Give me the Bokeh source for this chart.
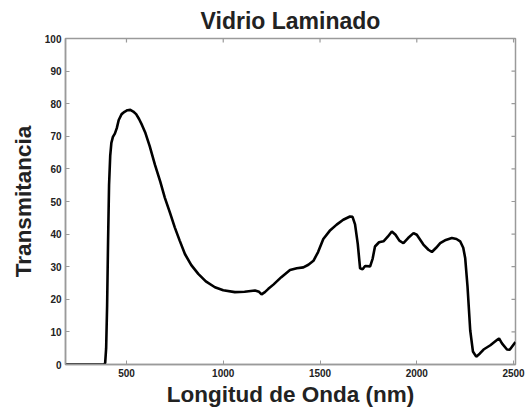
from bokeh.plotting import figure
from bokeh.models import Range1d, FixedTicker
from bokeh.embed import file_html
from bokeh.resources import INLINE
import math

# Wavelength (nm) and transmittance (%)
wavelength_nm = [185, 250, 300, 350, 385, 390, 395, 400, 405, 410, 416, 422, 430, 440,
                 450, 460, 475, 490, 505, 520, 535, 550, 565, 580, 598, 620, 647, 675,
                 698, 725, 750, 775, 802, 835, 871, 910, 957, 1000, 1060, 1110, 1164,
                 1185, 1198, 1215, 1233, 1259, 1300, 1345, 1380, 1414, 1440, 1466, 1490,
                 1517, 1550, 1586, 1620, 1655, 1668, 1681, 1695, 1707, 1720, 1733, 1759,
                 1772, 1784, 1805, 1828, 1850, 1871, 1890, 1910, 1931, 1955, 1983, 2000,
                 2034, 2060, 2078, 2100, 2121, 2150, 2181, 2205, 2224, 2240, 2250, 2262,
                 2276, 2290, 2307, 2325, 2345, 2380, 2414, 2425, 2440, 2466, 2480, 2510]
transmitancia = [0, 0, 0, 0, 0, 0.5, 5, 18, 38, 55, 64, 68, 69.8, 70.8,
                 72.5, 75, 76.8, 77.5, 78, 78.1, 77.6, 76.8, 75.3, 73.5, 71, 67, 61.3, 56,
                 51.2, 46.5, 42, 38, 33.9, 30.5, 27.8, 25.5, 23.7, 22.8, 22.2, 22.3, 22.7,
                 22.3, 21.5, 22.2, 23.2, 24.5, 26.8, 29, 29.5, 29.8, 30.6, 31.8, 34.5,
                 38.5, 41, 42.9, 44.4, 45.4, 45.3, 43, 37, 29.5, 29.2, 30.2, 30.1,
                 32.5, 36.2, 37.5, 37.8, 39.2, 40.8, 39.8, 38, 37.2, 38.8, 40.3, 39.8,
                 36.8, 35.2, 34.5, 35.8, 37.2, 38.2, 38.8, 38.5, 37.8, 35.8, 32.7, 24,
                 10.5, 4, 2.4, 3.3, 4.6, 5.9, 7.5, 8.0, 6.5, 4.6, 4.5, 6.9]

x_ticks = [500, 1000, 1500, 2000, 2500]
y_ticks = [0, 10, 20, 30, 40, 50, 60, 70, 80, 90, 100]
x_min, x_max = 185, 2510
y_min, y_max = 0, 100

FONT = "Liberation Sans"
AX_COLOR = "#9a9a9a"
TXT = "#222222"

p = figure(width=530, height=415, output_backend="svg", toolbar_location=None,
           x_range=Range1d(x_min, x_max), y_range=Range1d(y_min, y_max),
           title="Vidrio Laminado",
           min_border_left=65, min_border_right=15, min_border_top=36, min_border_bottom=51)
p.background_fill_color = "white"
p.border_fill_color = "white"
p.grid.visible = False
p.outline_line_color = AX_COLOR
p.outline_line_width = 1.5

p.title.text_font = FONT
p.title.text_font_size = "23px"
p.title.text_font_style = "bold"
p.title.text_color = TXT
p.title.align = "center"

p.line(wavelength_nm, transmitancia, line_color="black", line_width=2.6)

# mirrored inward ticks on the top and right edges (box style)
p.scatter(x=x_ticks, y=[y_max] * len(x_ticks), marker="dash", angle=math.pi / 2,
          size=8, line_color=AX_COLOR, line_width=1.2)
p.scatter(x=[x_max] * len(y_ticks), y=y_ticks, marker="dash",
          size=8, line_color=AX_COLOR, line_width=1.2)

for ax in (p.xaxis[0], p.yaxis[0]):
    ax.axis_line_color = AX_COLOR
    ax.axis_line_width = 1.5
    ax.major_tick_line_color = AX_COLOR
    ax.major_tick_in = 4
    ax.major_tick_out = 0
    ax.minor_tick_line_color = None
    ax.major_label_text_font = FONT
    ax.major_label_text_font_size = "10px"
    ax.major_label_text_font_style = "bold"
    ax.major_label_text_color = TXT
    ax.axis_label_text_font = FONT
    ax.axis_label_text_font_size = "22.5px"
    ax.axis_label_text_font_style = "bold"
    ax.axis_label_text_color = TXT

p.xaxis.ticker = FixedTicker(ticks=x_ticks)
p.yaxis.ticker = FixedTicker(ticks=y_ticks)
p.xaxis.axis_label = "Longitud de Onda (nm)"
p.yaxis.axis_label = "Transmitancia"
p.xaxis.major_label_standoff = 4
p.yaxis.major_label_standoff = 4
p.xaxis.axis_label_standoff = 2
p.yaxis.axis_label_standoff = 6

open("out.html", "w").write(file_html(p, INLINE))
